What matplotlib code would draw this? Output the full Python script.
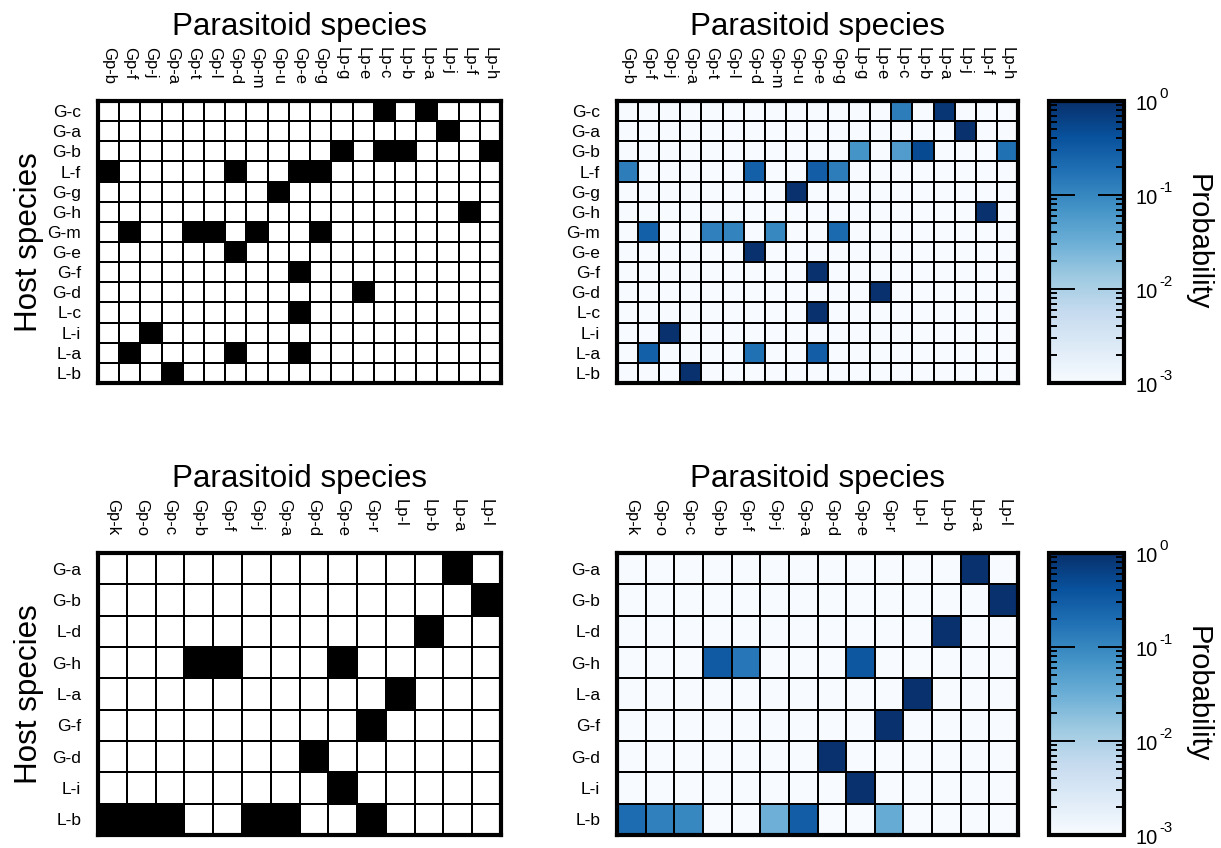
import numpy as np
import matplotlib
matplotlib.use("Agg")
import matplotlib.pyplot as plt
from matplotlib.colors import ListedColormap, LogNorm
from matplotlib.ticker import LogLocator, NullFormatter

plt.rcParams["font.family"] = ["Liberation Sans", "DejaVu Sans"]

# ---- network 1 ----
net1_parasitoids = ["Gp-b", "Gp-f", "Gp-j", "Gp-a", "Gp-t", "Gp-l", "Gp-d", "Gp-m", "Gp-u",
                    "Gp-e", "Gp-g", "Lp-g", "Lp-e", "Lp-c", "Lp-b", "Lp-a", "Lp-j", "Lp-f", "Lp-h"]
net1_hosts = ["G-c", "G-a", "G-b", "L-f", "G-g", "G-h", "G-m", "G-e", "G-f", "G-d",
              "L-c", "L-i", "L-a", "L-b"]
# (host, parasitoid, interaction probability)
net1_links = [
    ("G-c", "Lp-c", 0.13), ("G-c", "Lp-a", 0.87),
    ("G-a", "Lp-j", 0.97),
    ("G-b", "Lp-g", 0.07), ("G-b", "Lp-c", 0.055), ("G-b", "Lp-b", 0.5), ("G-b", "Lp-h", 0.18),
    ("L-f", "Gp-b", 0.13), ("L-f", "Gp-d", 0.28), ("L-f", "Gp-e", 0.3), ("L-f", "Gp-g", 0.13),
    ("G-g", "Gp-u", 0.97),
    ("G-h", "Lp-f", 0.97),
    ("G-m", "Gp-f", 0.28), ("G-m", "Gp-t", 0.12), ("G-m", "Gp-l", 0.11),
    ("G-m", "Gp-m", 0.1), ("G-m", "Gp-g", 0.22),
    ("G-e", "Gp-d", 0.97),
    ("G-f", "Gp-e", 0.97),
    ("G-d", "Lp-e", 0.97),
    ("L-c", "Gp-e", 0.97),
    ("L-i", "Gp-j", 0.97),
    ("L-a", "Gp-f", 0.28), ("L-a", "Gp-d", 0.18), ("L-a", "Gp-e", 0.3),
    ("L-b", "Gp-a", 0.97),
]

# ---- network 2 ----
net2_parasitoids = ["Gp-k", "Gp-o", "Gp-c", "Gp-b", "Gp-f", "Gp-j", "Gp-a", "Gp-d", "Gp-e",
                    "Gp-r", "Lp-l", "Lp-b", "Lp-a", "Lp-l"]
net2_hosts = ["G-a", "G-b", "L-d", "G-h", "L-a", "G-f", "G-d", "L-i", "L-b"]
# (host row, parasitoid column, interaction probability) -- columns by index,
# since "Lp-l" occurs twice among the labels
net2_links = [
    (0, 12, 0.97),
    (1, 13, 0.97),
    (2, 11, 0.97),
    (3, 3, 0.33), (3, 4, 0.15), (3, 8, 0.35),
    (4, 10, 0.97),
    (5, 9, 0.97),
    (6, 7, 0.97),
    (7, 8, 0.97),
    (8, 0, 0.2), (8, 1, 0.12), (8, 2, 0.1), (8, 5, 0.03), (8, 6, 0.3), (8, 9, 0.035),
]

P_MIN, P_MAX = 1e-3, 1.0
cbar_exponents = [0, -1, -2, -3]


def build_matrix(hosts, parasitoids, links, by_name=True):
    mat = np.full((len(hosts), len(parasitoids)), P_MIN)
    for h, p, v in links:
        i = hosts.index(h) if by_name else h
        j = parasitoids.index(p) if by_name else p
        mat[i, j] = v
    return mat


prob1 = build_matrix(net1_hosts, net1_parasitoids, net1_links)
prob2 = build_matrix(net2_hosts, net2_parasitoids, net2_links, by_name=False)
bin1 = (prob1 > P_MIN).astype(float)
bin2 = (prob2 > P_MIN).astype(float)

W, H = 1221, 848
fig = plt.figure(figsize=(W / 100, H / 100), dpi=100)


def px_axes(left, top, right, bottom):
    return fig.add_axes([left / W, 1 - bottom / H, (right - left) / W, (bottom - top) / H])


def draw_matrix(ax, mat, hosts, parasitoids, cmap, norm, host_label):
    n_r, n_c = mat.shape
    mesh = ax.pcolormesh(np.arange(n_c + 1), np.arange(n_r + 1), mat, cmap=cmap, norm=norm,
                         edgecolors="black", linewidth=1.2)
    ax.set_xlim(0, n_c)
    ax.set_ylim(n_r, 0)
    ax.set_xticks(np.arange(n_c) + 0.5)
    ax.set_yticks(np.arange(n_r) + 0.5)
    ax.set_xticklabels(parasitoids, rotation=-90, va="top", ha="center", fontsize=12)
    ax.set_yticklabels(hosts, fontsize=12.5)
    ax.xaxis.tick_top()
    ax.tick_params(axis="x", length=0, pad=39)
    ax.tick_params(axis="y", length=0, pad=12)
    for s in ax.spines.values():
        s.set_linewidth(3)
    ax.text(0.5, 1 + 66 / 282, "Parasitoid species", transform=ax.transAxes, ha="center",
            va="baseline", fontsize=22.6)
    if host_label:
        ax.text(-69 / 403, 0.5, "Host species", transform=ax.transAxes, rotation=90,
                ha="center", va="center", fontsize=22.6)
    return mesh


def draw_colorbar(cax, mesh):
    cb = fig.colorbar(mesh, cax=cax)
    cb.outline.set_linewidth(3)
    cax.yaxis.set_major_locator(LogLocator(base=10, numticks=10))
    cax.yaxis.set_minor_locator(LogLocator(base=10, subs=np.arange(2, 10), numticks=20))
    cax.yaxis.set_major_formatter(NullFormatter())
    cax.yaxis.set_minor_formatter(NullFormatter())
    cax.tick_params(which="major", direction="in", length=19, width=1.4, left=True, right=True)
    cax.tick_params(which="minor", direction="in", length=5.5, width=1.4, left=True, right=True)
    # power-of-ten labels with a large, raised exponent
    for e in cbar_exponents:
        xy = (1.0, 10.0 ** e)
        cax.annotate("10", xy=xy, xycoords=("axes fraction", "data"), xytext=(8.4, -6.3),
                     textcoords="offset points", ha="left", va="baseline", fontsize=14.4,
                     annotation_clip=False)
        cax.annotate(str(e), xy=xy, xycoords=("axes fraction", "data"),
                     xytext=(25.6, 2.2), textcoords="offset points", ha="left", va="baseline",
                     fontsize=10.8, annotation_clip=False)
    cax.text((1198 - 1049) / 75, 0.5, "Probability", transform=cax.transAxes, rotation=270,
             ha="center", va="center", fontsize=21)


bw = ListedColormap(["white", "black"])
blues = plt.get_cmap("Blues")
lognorm = LogNorm(vmin=P_MIN, vmax=P_MAX)

ax1 = px_axes(98, 101, 501, 383)
draw_matrix(ax1, bin1, net1_hosts, net1_parasitoids, bw, None, True)
ax2 = px_axes(617, 101, 1018, 383)
m2 = draw_matrix(ax2, prob1, net1_hosts, net1_parasitoids, blues, lognorm, False)
draw_colorbar(px_axes(1049, 101, 1124, 383), m2)

ax3 = px_axes(98, 553, 501, 835)
draw_matrix(ax3, bin2, net2_hosts, net2_parasitoids, bw, None, True)
ax4 = px_axes(617, 553, 1018, 835)
m4 = draw_matrix(ax4, prob2, net2_hosts, net2_parasitoids, blues, lognorm, False)
draw_colorbar(px_axes(1049, 553, 1124, 835), m4)

fig.savefig("out.png", dpi=100, facecolor="white")
